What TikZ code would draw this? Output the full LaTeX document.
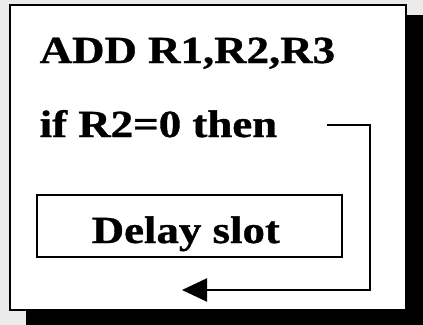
\documentclass[tikz,border=0pt]{standalone}
\usepackage{fontspec}
\usepackage{graphicx}
\setmainfont{Liberation Serif}[BoldFeatures={FakeBold=0.8}]
\usetikzlibrary{arrows.meta}
\definecolor{bggray}{HTML}{EBEBEB}
\tikzset{
  txt/.style={anchor=base west, inner sep=0pt, font=\fontsize{38.5}{42}\selectfont\bfseries},
  frame/.style={draw=black, line width=2bp},
  flow/.style={draw=black, line width=2.2bp, -{Triangle[length=25bp,width=23bp]}}
}
\newcommand{\wide}[1]{\scalebox{1.17}[1]{#1}}
\begin{document}
\begin{tikzpicture}[x=1bp,y=1bp]
  \fill[bggray] (0,0) rectangle (423,325);
  \useasboundingbox (0,0) rectangle (423,325);
  % shadow
  \fill[black] (26,0) rectangle (423,310);
  % outer card
  \filldraw[fill=white, frame] (10,15) rectangle (406,320);
  % texts
  \node[txt] (add) at (39.5,262) {\wide{ADD R1,R2,R3}};
  \node[txt] (cond) at (39.5,188) {\wide{if R2=0 then}};
  \node[draw, frame, minimum width=305bp, minimum height=62bp, inner sep=0pt] (slot) at (189.5,99) {};
  \node[txt] (slottxt) at (91.5,82) {\wide{Delay slot}};
  % branch arrow
  \coordinate (start) at (327,200);
  \coordinate (corner1) at (370,200);
  \coordinate (corner2) at (370,35);
  \coordinate (target) at (182,35);
  \draw[flow] (start) -- (corner1) -- (corner2) -- (target);
\end{tikzpicture}
\end{document}
